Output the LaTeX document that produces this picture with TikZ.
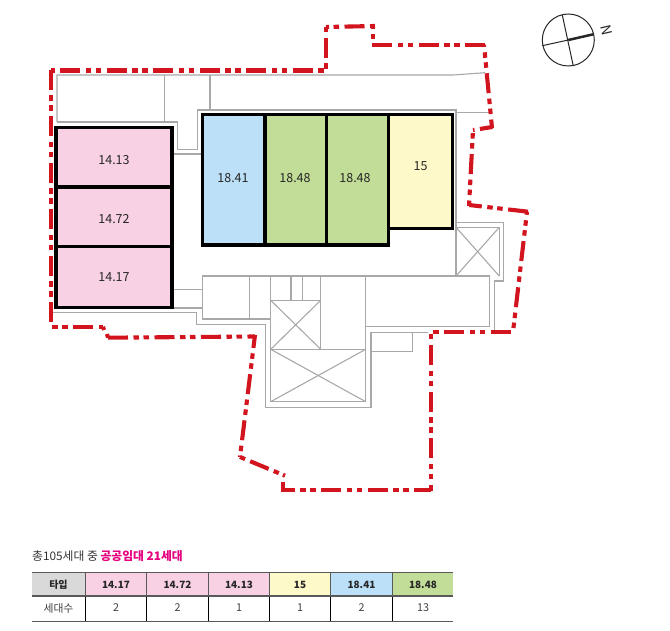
\documentclass[tikz,border=0pt]{standalone}
\usepackage{fontspec}
\setmainfont{Noto Sans CJK KR}
\usepackage{xcolor}
\usetikzlibrary{positioning}
\definecolor{roomPink}{HTML}{F8D2E4}
\definecolor{roomBlue}{HTML}{BBE0F8}
\definecolor{roomGreen}{HTML}{C2DD98}
\definecolor{roomYellow}{HTML}{FEF9C8}
\definecolor{siteRed}{HTML}{D2141F}
\definecolor{planGrey}{HTML}{A8A8A8}
\definecolor{typeMagenta}{HTML}{E6007E}
\tikzset{
	redline/.style={draw=siteRed, line width=4.1pt, dash pattern=on 20pt off 5.5pt on 5.5pt off 4.5pt on 5.5pt off 5.5pt},
	redstub/.style={draw=siteRed, line width=4.1pt},
	planline/.style={draw=planGrey, line width=1.1pt},
	wallline/.style={draw=black, line width=3.5pt, line join=miter},
	roomtext/.style={font=\fontsize{12.5}{14}\selectfont, text=black!85},
	headtext/.style={font=\fontsize{10}{12}\selectfont\bfseries, text=black!85},
	celltext/.style={font=\fontsize{10.8}{12}\selectfont, text=black!75},
	tablerule/.style={draw=black!65, line width=1.3pt}
}

\begin{document}
\begin{tikzpicture}[x=1pt,y=-1pt]
			\useasboundingbox (0,0) rectangle (670,631);

			\draw[planline](57,122) to (57,75) to (453,75) to (485,72.7);
			\draw[planline](164.3,75) to (164.3,122);
			\draw[planline](210,75) to (210,110);
			\draw[planline](57,122) to (177.7,122) to (177.7,149.3) to (197.3,149.3) to (197.3,110) to (456,110) to (456,222.7) to (503.3,222.7) to (503.3,281) to (494.3,281) to (494.3,331);
			\draw[planline](456,112.3) to (490,112.3);
			\draw[planline](172,154) to (202,154);
			\draw[planline](172,289.3) to (202.7,289.3);
			\draw[planline](172,308) to (202.7,308);
			\draw[planline](53,312.3) to (196.7,312.3) to (196.7,324.5) to (265.3,324.5) to (265.3,407.3) to (371,407.3) to (371,332.3) to (428,332.3);
			\draw[planline](371,351.7) to (412.7,351.7) to (412.7,332.3);
			\draw[planline](270.7,319) to (202.7,319) to (202.7,276) to (489.3,276) to (489.3,326.7) to (365.7,326.7);
			\draw[planline](249.3,276) to (249.3,319);
			\draw[planline](270.7,276) to (270.7,401.7) to (365.7,401.7) to (365.7,276);
			\draw[planline](320.7,276) to (320.7,349.3);
			\draw[planline](291,276) to (291,300.3);
			\draw[planline](302.7,276) to (302.7,300.3);
			\draw[planline](270.7,300.3) to (320.7,300.3);
			\draw[planline](270.7,349.3) to (365.7,349.3);
			\draw[planline](270.7,300.3) to (320.7,349.3);
			\draw[planline](320.7,300.3) to (270.7,349.3);
			\draw[planline](270.7,349.3) to (365.7,401.7);
			\draw[planline](365.7,349.3) to (270.7,401.7);
			\draw[planline](456,227.3) to (499.3,227.3) to (499.3,276);
			\draw[planline](456,222.7) to (456,276);
			\draw[planline](456,227.3) to (499.3,276);
			\draw[planline](499.3,227.3) to (456,276);

			\draw[redline, dash phase=37.5pt](51,70.5) to (326,70.5);
			\draw[redline](51,70) to (51,326.7);
			\draw[redline, dash phase=24.5pt](51,326.7) to (103,326.7);
			\draw[redstub](103,326.7) to (104,330);
			\draw[redstub](107,334) to (108,337.7);
			\draw[redline](108,337.7) to (255,336.5);
			\draw[redline, dash phase=7pt](255,335) to (240,457);
			\draw[redline, dash phase=35.5pt](240,457) to (285,475.7);
			\draw[redstub](283,482) to (283,490);
			\draw[redline, dash phase=6.5pt](281,490) to (431,490);
			\draw[redline, dash phase=13.5pt](431,491) to (431,332);
			\draw[redline, dash phase=33.5pt](431,332) to (513,332);
			\draw[redline, dash phase=21.5pt](513,332) to (527,211.7);
			\draw[redline](528,211.7) to (469,205);
			\draw[redline, dash phase=14.5pt](469,206) to (473,130);
			\draw[redline, dash phase=39.5pt](473,130) to (492.5,127);
			\draw[redline, dash phase=11.5pt](492,128) to (484,44.7);
			\draw[redline](485,44.7) to (372,44.7);
			\draw[redline, dash phase=20pt](373,44.7) to (373,24);
			\draw[redline, dash phase=36pt](375,26) to (326,27);
			\draw[redline, dash phase=35.5pt](326,27) to (326,70.5);

			\fill[roomPink](56,127.3) rectangle (172,307.3);
			\fill[roomBlue](202.3,114.3) rectangle (265,245);
			\fill[roomGreen](265,114.3) rectangle (388.3,245);
			\fill[roomYellow](388.3,114.3) rectangle (452.3,228.3);

			\draw[wallline](56,127.3) rectangle (172,307.3);
			\draw[wallline](56,187) to (172,187);
			\draw[wallline](56,246.7) to (172,246.7);
			\draw[wallline](202.3,114.3) to (452.3,114.3) to (452.3,228.3) to (388.3,228.3) to (388.3,245) to (202.3,245) -- cycle;
			\draw[wallline](265,114.3) to (265,245);
			\draw[wallline](326.5,114.3) to (326.5,245);
			\draw[wallline](388.3,114.3) to (388.3,228.3);

			\node[roomtext] (a1413) at(114,160){14.13};
			\node[roomtext] (a1472) at(114,219){14.72};
			\node[roomtext] (a1417) at(114,277.5){14.17};
			\node[roomtext] (a1841) at(233,178){18.41};
			\node[roomtext] (a1848l) at(295,178){18.48};
			\node[roomtext] (a1848r) at(355,178){18.48};
			\node[roomtext] (a15) at(420.5,166){15};

			\draw[line width=1pt, black!85](568.3,40) circle (26);
			\draw[line width=1pt, black!85](562.3,15) to (573.3,66);
			\draw[line width=1pt, black!85](542.3,45.7) to (568.3,40);
			\draw[line width=2.5pt, black!85](568.3,40) to (593.3,34.3);
			\node[rotate=-77, font=\fontsize{14}{15}\selectfont, text=black!85] (north) at(606.7,30.7){N};

			\node[anchor=west, inner sep=0pt, font=\fontsize{11.8}{13}\selectfont, text=black!80] (title) at(32,556){총105세대 중 \textcolor{typeMagenta}{\bfseries 공공임대 21세대}};

			\fill[black!15](32,572.7) rectangle (85.3,596);
			\fill[roomPink](85.3,572.7) rectangle (269.3,596);
			\fill[roomYellow](269.3,572.7) rectangle (330.7,596);
			\fill[roomBlue](330.7,572.7) rectangle (392.3,596);
			\fill[roomGreen](392.3,572.7) rectangle (453.3,596);

			\draw[tablerule](85.3,572.7) to (85.3,596);
			\draw[tablerule](146.7,572.7) to (146.7,596);
			\draw[tablerule](208.3,572.7) to (208.3,596);
			\draw[tablerule](269.3,572.7) to (269.3,596);
			\draw[tablerule](330.7,572.7) to (330.7,596);
			\draw[tablerule](392.3,572.7) to (392.3,596);
			\draw[line width=.8pt](85.3,596) to (85.3,621.7);
			\draw[line width=.8pt](146.7,596) to (146.7,621.7);
			\draw[line width=.8pt](208.3,596) to (208.3,621.7);
			\draw[line width=.8pt](269.3,596) to (269.3,621.7);
			\draw[line width=.8pt](330.7,596) to (330.7,621.7);
			\draw[line width=.8pt](392.3,596) to (392.3,621.7);
			\draw[tablerule](32,572.7) to (453.3,572.7);
			\draw[tablerule](32,596) to (453.3,596);
			\draw[tablerule](32,621.7) to (453.3,621.7);

			\node[headtext] (htype) at(58.5,584.5){타입};
			\node[headtext] (h1417) at(116,584.5){14.17};
			\node[headtext] (h1472) at(177.5,584.5){14.72};
			\node[headtext] (h1413) at(239,584.5){14.13};
			\node[headtext] (h15) at(300,584.5){15};
			\node[headtext] (h1841) at(361.5,584.5){18.41};
			\node[headtext] (h1848) at(423,584.5){18.48};

			\node[celltext] (ccount) at(58.5,608){세대수};
			\node[celltext] (c1417) at(116,608){2};
			\node[celltext] (c1472) at(177.5,608){2};
			\node[celltext] (c1413) at(239,608){1};
			\node[celltext] (c15) at(300,608){1};
			\node[celltext] (c1841) at(361.5,608){2};
			\node[celltext] (c1848) at(423,608){13};
		\end{tikzpicture}
\end{document}
